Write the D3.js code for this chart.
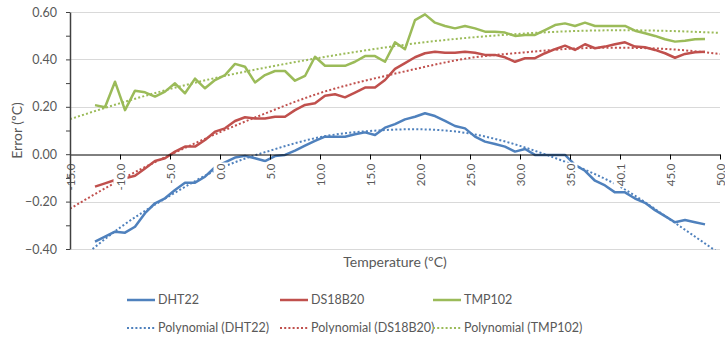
<!DOCTYPE html>
<html>
<head>
<meta charset="utf-8">
<script src="https://cdn.jsdelivr.net/npm/d3@7"></script>
<style>
body{margin:0;background:#fff;}
text{font-family:Lato,"Open Sans",sans-serif;fill:#595959;}
</style>
</head>
<body>
<div id="chart"></div>
<script>
// measured temperatures (ºC)
var temps=[-12.5,-11.5,-10.5,-9.5,-8.5,-7.5,-6.5,-5.5,-4.5,-3.5,-2.5,-1.5,-0.5,0.5,1.5,2.5,3.5,4.5,5.5,6.5,
  7.5,8.5,9.5,10.5,11.5,12.5,13.5,14.5,15.5,16.5,17.5,18.5,19.5,20.5,21.5,22.5,23.5,24.5,25.5,26.5,
  27.5,28.5,29.5,30.5,31.5,32.5,33.5,34.5,35.5,36.5,37.5,38.5,39.5,40.5,41.5,42.5,43.5,44.5,45.5,46.5,
  47.5,48.5];
var dht22=[-0.369,-0.348,-0.327,-0.331,-0.306,-0.249,-0.207,-0.186,-0.151,-0.120,
  -0.120,-0.095,-0.055,-0.035,-0.014,-0.007,-0.017,-0.029,-0.008,-0.003,
  0.015,0.036,0.056,0.074,0.074,0.074,0.084,0.092,0.081,0.112,
  0.127,0.147,0.158,0.173,0.161,0.141,0.119,0.109,0.074,0.053,
  0.043,0.032,0.011,0.022,-0.003,-0.003,-0.003,-0.003,-0.045,-0.070,
  -0.112,-0.132,-0.161,-0.161,-0.187,-0.205,-0.236,-0.261,-0.287,-0.278,
  -0.287,-0.296];
var ds18b20=[-0.137,-0.123,-0.109,-0.102,-0.091,-0.060,-0.029,-0.017,0.011,0.032,
  0.032,0.060,0.095,0.109,0.140,0.156,0.151,0.151,0.158,0.158,
  0.186,0.208,0.215,0.247,0.253,0.240,0.260,0.281,0.281,0.313,
  0.360,0.384,0.409,0.426,0.432,0.428,0.428,0.432,0.428,0.419,
  0.419,0.409,0.390,0.405,0.405,0.426,0.443,0.458,0.440,0.464,
  0.447,0.454,0.464,0.472,0.454,0.451,0.440,0.426,0.407,0.423,
  0.430,0.432];
var tmp102=[0.207,0.198,0.306,0.186,0.268,0.261,0.243,0.264,0.299,0.257,
  0.319,0.278,0.313,0.334,0.381,0.369,0.303,0.334,0.351,0.351,
  0.310,0.330,0.411,0.373,0.373,0.373,0.390,0.414,0.414,0.390,
  0.472,0.443,0.566,0.590,0.555,0.541,0.531,0.541,0.531,0.517,
  0.517,0.513,0.499,0.503,0.503,0.524,0.545,0.552,0.541,0.555,
  0.541,0.541,0.541,0.541,0.521,0.510,0.499,0.485,0.475,0.479,
  0.485,0.486];
var trendT=[-15,-10,-5,0,5,10,15,20,25,30,35,40,45,50];
var dht22Trend=[-0.48,-0.31,-0.175,-0.06,0.015,0.072,0.098,0.105,0.087,0.035,-0.04,-0.137,-0.275,-0.42];
var ds18b20Trend=[-0.23,-0.109,-0.003,0.093,0.18,0.258,0.315,0.364,0.406,0.428,0.445,0.449,0.443,0.423];
var tmp102Trend=[0.148,0.215,0.275,0.326,0.369,0.407,0.441,0.470,0.492,0.508,0.519,0.523,0.520,0.512];
var xTickVals=[-15,-10,-5,0,5,10,15,20,25,30,35,40,45,50];
var xTickLbls=["-15.0","-10.0","-5.0","0.0","5.0","10.0","15.0","20.0","25.0","30.0","35.0","40.1","45.0","50.0"];
var yTicks=[-0.4,-0.2,0,0.2,0.4,0.6];
var yMinor=[-0.4,-0.3,-0.2,-0.1,0,0.1,0.2,0.3,0.4,0.5,0.6];
var names=["DHT22","DS18B20","TMP102"];
var colors=["#4f81bd","#c0504d","#9bbb59"];

var ww=725,hh=340,x0=70,x1=720,y0=12,y1=249;
var x=d3.scaleLinear().domain([-15,50]).range([x0,x1]),
    y=d3.scaleLinear().domain([-0.4,0.6]).range([y1,y0]);

var svg=d3.select("#chart").append("svg")
  .attr("width",ww).attr("height",hh);
svg.append("defs").append("clipPath").attr("id","plotclip")
  .append("rect").attr("x",x0).attr("y",y0-2).attr("width",x1-x0).attr("height",y1-y0+3);

// gridlines
svg.append("g").selectAll("line")
  .data(yTicks.filter(function(d){return d!==0;}))
  .enter().append("line")
  .attr("x1",x0).attr("x2",x1)
  .attr("y1",function(d){return Math.round(y(d))+0.5;})
  .attr("y2",function(d){return Math.round(y(d))+0.5;})
  .attr("stroke","#d9d9d9");

var series=[dht22,ds18b20,tmp102];
var trends=[dht22Trend,ds18b20Trend,tmp102Trend];

var line=d3.line()
  .x(function(d,i){return x(temps[i]);})
  .y(function(d){return y(d);});
var tline=d3.line()
  .x(function(d,i){return x(trendT[i]);})
  .y(function(d){return y(d);})
  .curve(d3.curveNatural);

var plot=svg.append("g").attr("clip-path","url(#plotclip)");
series.forEach(function(s,i){
  plot.append("path").datum(s)
    .attr("d",line)
    .attr("fill","none")
    .attr("stroke",colors[i])
    .attr("stroke-width",2.5)
    .attr("stroke-linejoin","round");
});
trends.forEach(function(s,i){
  plot.append("path").datum(s)
    .attr("d",tline)
    .attr("fill","none")
    .attr("stroke",colors[i])
    .attr("stroke-width",2)
    .attr("stroke-dasharray","2,2.2");
});

// x axis at 0.00
var xAxis=d3.axisBottom(x)
  .tickValues(xTickVals)
  .tickSize(5).tickSizeOuter(0)
  .tickFormat(function(d,i){return xTickLbls[i];});
var gx=svg.append("g")
  .attr("transform","translate(0,"+(Math.round(y(0))+0.5)+")")
  .call(xAxis);
gx.select(".domain").attr("stroke","#000");
gx.selectAll(".tick line").attr("stroke","#000");
gx.selectAll(".tick text")
  .attr("transform","rotate(-90)")
  .attr("text-anchor","end")
  .attr("x",-9).attr("y",0).attr("dy","0.35em")
  .style("font-size","11.5px")
  .attr("fill","#595959");
gx.selectAll(".tick").each(function(){
  var t=d3.select(this).select("text");
  var len=t.node().getComputedTextLength();
  d3.select(this).insert("rect","text")
    .attr("transform","rotate(-90)")
    .attr("x",-9-len-1).attr("y",-7)
    .attr("width",len+2).attr("height",14)
    .attr("fill","#fff");
});

// y axis
var yAxis=d3.axisLeft(y)
  .tickValues(yMinor)
  .tickSize(4).tickSizeOuter(0).tickPadding(9)
  .tickFormat(function(d){
    return yTicks.some(function(v){return Math.abs(v-d)<1e-9;})?d3.format(".2f")(d):"";
  });
var gy=svg.append("g").attr("transform","translate("+x0+",0)").call(yAxis);
gy.select(".domain").attr("stroke","#404040").attr("stroke-width",1.5);
gy.selectAll(".tick line").attr("stroke","#404040");
gy.selectAll(".tick text").style("font-size","12.5px").attr("fill","#595959");

// axis titles
svg.append("text")
  .attr("transform","translate(17,"+((y0+y1)/2)+") rotate(-90)")
  .attr("text-anchor","middle").attr("dy","0.35em")
  .style("font-size","14px")
  .text("Error (ºC)");
svg.append("text")
  .attr("x",(x0+x1)/2).attr("y",267)
  .attr("text-anchor","middle")
  .style("font-size","14px")
  .text("Temperature (ºC)");

// legend
var legX=[127,280,433],legY=[300,328];
var leg=svg.append("g");
names.forEach(function(n,i){
  [0,1].forEach(function(r){
    var g=leg.append("g").attr("transform","translate("+legX[i]+","+legY[r]+")");
    g.append("line").attr("x1",0).attr("x2",28).attr("y1",0).attr("y2",0)
      .attr("stroke",colors[i])
      .attr("stroke-width",r===0?2.5:2)
      .attr("stroke-dasharray",r===0?null:"2,2.2");
    g.append("text").attr("x",31).attr("dy","0.35em")
      .style("font-size","12.5px")
      .text(r===0?n:"Polynomial ("+n+")");
  });
});
</script>
</body>
</html>
